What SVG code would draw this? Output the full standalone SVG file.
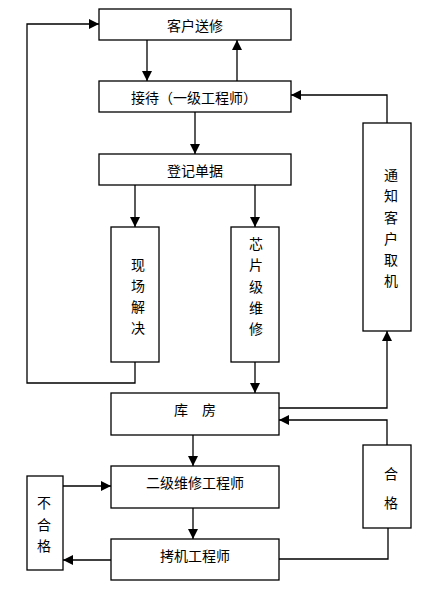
<svg xmlns="http://www.w3.org/2000/svg" width="431" height="592" viewBox="0 0 431 592">
<defs>
<marker id="ah" markerWidth="10" markerHeight="10" refX="10" refY="5" orient="auto" markerUnits="userSpaceOnUse">
<path d="M0,0 L10,5 L0,10 Z" fill="#000"/>
</marker>
<style>
.box{fill:#fff;stroke:#000;stroke-width:1.3}
.t{font-family:"Noto Sans CJK SC","Noto Sans CJK JP",sans-serif;font-size:14px;fill:#000;text-anchor:middle;dominant-baseline:central}
.c{fill:none;stroke:#000;stroke-width:1.3}
.a{marker-end:url(#ah)}
</style>
</defs>
<rect width="431" height="592" fill="#fff"/>
<g id="connectors">
<path class="c a" d="M147,40 V81"/>
<path class="c a" d="M237,81 V40"/>
<path class="c a" d="M195,112 V154"/>
<path class="c a" d="M135,185 V227"/>
<path class="c a" d="M255,185 V227"/>
<path class="c a" d="M135,362 V383 H27 V24 H99"/>
<path class="c a" d="M255,362 V393"/>
<path class="c a" d="M387,123 V95 H291"/>
<path class="c a" d="M279,408 H387 V331"/>
<path class="c a" d="M387,445 V420 H279"/>
<path class="c a" d="M193,435 V466"/>
<path class="c a" d="M193,508 V539"/>
<path class="c a" d="M63,486 H111"/>
<path class="c a" d="M111,560 H63"/>
<path class="c" d="M279,559 H388 V528"/>
</g>
<g id="n-kehusongxiu"><rect class="box" x="99" y="9" width="192" height="31"/><text class="t" x="195" y="25">客户送修</text></g>
<g id="n-jiedai"><rect class="box" x="99" y="81" width="192" height="31"/><text class="t" x="194" y="97">接待（一级工程师）</text></g>
<g id="n-dengji"><rect class="box" x="99" y="154" width="192" height="31"/><text class="t" x="195" y="170">登记单据</text></g>
<g id="n-xianchang"><rect class="box" x="111" y="227" width="48" height="135"/>
<text class="t" x="138" y="264">现</text><text class="t" x="138" y="285">场</text><text class="t" x="138" y="306">解</text><text class="t" x="138" y="327">决</text></g>
<g id="n-xinpian"><rect class="box" x="231" y="227" width="48" height="135"/>
<text class="t" x="256" y="243">芯</text><text class="t" x="256" y="264">片</text><text class="t" x="256" y="286">级</text><text class="t" x="256" y="307">维</text><text class="t" x="256" y="328">修</text></g>
<g id="n-tongzhi"><rect class="box" x="363" y="123" width="48" height="208"/>
<text class="t" x="391" y="174">通</text><text class="t" x="391" y="195">知</text><text class="t" x="391" y="217">客</text><text class="t" x="391" y="238">户</text><text class="t" x="391" y="259">取</text><text class="t" x="391" y="280">机</text></g>
<g id="n-kufang"><rect class="box" x="111" y="393" width="168" height="42"/><text class="t" x="195" y="409">库　房</text></g>
<g id="n-erji"><rect class="box" x="111" y="466" width="168" height="42"/><text class="t" x="195" y="482">二级维修工程师</text></g>
<g id="n-kaoji"><rect class="box" x="111" y="539" width="168" height="41"/><text class="t" x="195" y="555">拷机工程师</text></g>
<g id="n-hege"><rect class="box" x="363" y="445" width="48" height="83"/>
<text class="t" x="391" y="473">合</text><text class="t" x="391" y="502">格</text></g>
<g id="n-buhege"><rect class="box" x="27" y="476" width="36" height="94"/>
<text class="t" x="44" y="502">不</text><text class="t" x="44" y="524">合</text><text class="t" x="44" y="545">格</text></g>
</svg>
